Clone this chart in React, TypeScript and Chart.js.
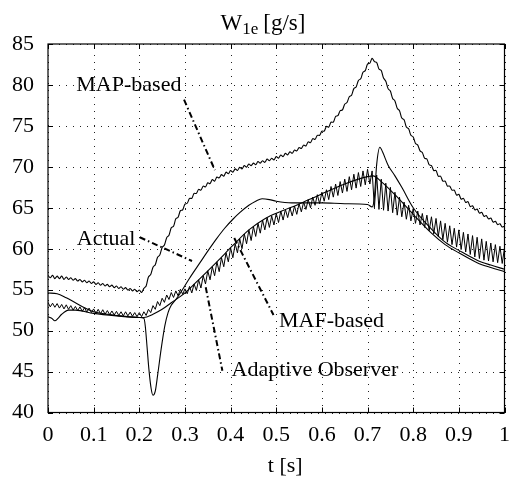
import React, { useEffect, useRef } from 'react';
import { Chart, registerables } from 'chart.js';

Chart.register(...registerables);

// ---------- data ----------
// fine-sampled series, one value every sampleStep seconds from t = 0 to t = 1
const sampleStep = 0.005;

const mapBasedFlow = [
  56.75, 56.45, 56.75, 56.35, 56.65, 56.35, 56.65, 56.25, 56.55, 56.25,
  56.45, 56.15, 56.35, 56.05, 56.25, 55.95, 56.15, 55.85, 56.05, 55.75,
  55.95, 55.65, 55.85, 55.55, 55.75, 55.45, 55.65, 55.35, 55.55, 55.25,
  55.45, 55.15, 55.35, 55.05, 55.25, 54.95, 55.15, 54.85, 55.05, 54.75,
  54.95, 54.65, 55.15, 55.45, 56.55, 56.85, 57.75, 58.05, 58.95, 59.25,
  60.15, 60.45, 61.35, 61.65, 62.55, 62.75, 63.65, 63.85, 64.65, 64.75,
  65.45, 65.55, 66.15, 66.15, 66.75, 66.75, 67.25, 67.15, 67.65, 67.55,
  68.05, 67.95, 68.45, 68.25, 68.75, 68.65, 69.05, 68.85, 69.35, 69.15,
  69.55, 69.35, 69.75, 69.55, 69.95, 69.75, 70.15, 69.95, 70.35, 70.15,
  70.45, 70.25, 70.65, 70.45, 70.75, 70.55, 70.95, 70.75, 71.05, 70.85,
  71.25, 71.05, 71.45, 71.25, 71.65, 71.45, 71.85, 71.65, 72.05, 71.95,
  72.35, 72.25, 72.65, 72.55, 73.05, 72.95, 73.45, 73.35, 73.85, 73.85,
  74.35, 74.35, 74.95, 74.85, 75.45, 75.45, 76.15, 76.25, 76.85, 76.95,
  77.65, 77.85, 78.55, 78.75, 79.55, 79.75, 80.55, 80.75, 81.55, 81.75,
  82.55, 82.65, 83.25, 82.85, 82.75, 81.95, 81.75, 80.85, 80.45, 79.55,
  79.25, 78.35, 78.05, 77.15, 76.85, 75.95, 75.75, 74.85, 74.65, 73.85,
  73.65, 72.85, 72.65, 71.95, 71.75, 71.05, 70.95, 70.25, 70.15, 69.55,
  69.55, 68.85, 68.85, 68.25, 68.25, 67.65, 67.65, 67.15, 67.15, 66.55,
  66.65, 66.05, 66.15, 65.65, 65.75, 65.15, 65.25, 64.75, 64.85, 64.35,
  64.45, 63.95, 64.05, 63.65, 63.75, 63.25, 63.35, 62.95, 63.05, 62.65,
  62.75,
];

const mafBasedFlow = [
  53.45, 52.9, 53.35, 52.85, 53.3, 52.75, 53.2, 52.65, 53.15, 52.6,
  53.05, 52.5, 52.95, 52.45, 52.9, 52.35, 52.8, 52.25, 52.75, 52.2,
  52.65, 52.1, 52.6, 52.05, 52.55, 52.0, 52.45, 51.95, 52.4, 51.9,
  52.35, 51.85, 52.3, 51.8, 52.3, 51.8, 52.25, 51.75, 52.2, 51.7,
  52.2, 51.7, 52.3, 51.85, 52.6, 52.2, 53.05, 52.6, 53.55, 53.05,
  53.95, 53.45, 54.35, 53.8, 54.65, 54.05, 54.85, 54.25, 55.05, 54.45,
  55.1, 54.5, 55.4, 54.6, 55.7, 54.9, 56.2, 55.2, 56.7, 55.7,
  57.3, 56.2, 57.8, 56.7, 58.4, 57.2, 58.9, 57.8, 59.5, 58.4,
  60.1, 58.9, 60.6, 59.5, 61.2, 60.0, 61.8, 60.6, 62.3, 61.0,
  62.7, 61.5, 63.1, 61.9, 63.5, 62.3, 63.8, 62.6, 64.0, 62.9,
  64.3, 63.2, 64.6, 63.5, 64.8, 63.8, 65.0, 64.0, 65.2, 64.2,
  65.5, 64.5, 65.7, 64.8, 66.0, 65.0, 66.3, 65.3, 66.6, 65.5,
  66.9, 65.8, 67.2, 66.0, 67.6, 66.3, 67.9, 66.5, 68.2, 66.8,
  68.5, 67.0, 68.8, 67.2, 69.1, 67.4, 69.3, 67.6, 69.5, 67.8,
  69.7, 67.9, 69.5, 65.0, 69.0, 64.8, 68.5, 64.7, 68.0, 64.6,
  67.5, 64.4, 66.9, 64.1, 66.3, 63.9, 65.7, 63.6, 65.3, 63.4,
  64.9, 63.1, 64.6, 62.9, 64.3, 62.6, 64.1, 62.2, 63.9, 61.8,
  63.7, 61.5, 63.4, 61.1, 63.1, 60.8, 62.8, 60.5, 62.5, 60.2,
  62.3, 59.9, 62.0, 59.6, 61.8, 59.3, 61.6, 59.0, 61.4, 58.8,
  61.2, 58.6, 60.9, 58.5, 60.7, 58.4, 60.5, 58.3, 60.3, 58.2,
  60.1,
];

const actualTime = [
  0, 0.02, 0.04, 0.06, 0.08, 0.1, 0.13, 0.16, 0.2, 0.21,
  0.213, 0.217, 0.221, 0.226, 0.23, 0.235, 0.24, 0.248, 0.256, 0.263,
  0.27, 0.28, 0.29, 0.31, 0.333, 0.35, 0.369, 0.387, 0.405, 0.42,
  0.44, 0.455, 0.469, 0.485, 0.5, 0.534, 0.6, 0.65, 0.7, 0.71,
  0.715, 0.72, 0.727, 0.733, 0.745, 0.76, 0.775, 0.8, 0.84, 0.87,
  0.9, 0.94, 0.97, 1.0,
];
const actualFlow = [
  54.6, 54.5, 54.0, 53.4, 52.8, 52.3, 52.0, 51.8, 51.6, 51.5,
  50.6, 48.0, 45.3, 42.9, 42.1, 42.6, 44.5, 47.8, 50.6, 52.2,
  53.1, 53.8, 54.6, 56.4, 58.3, 59.7, 61.2, 62.5, 63.6, 64.4,
  65.3, 65.8, 66.1, 66.0, 65.8, 65.6, 65.6, 65.5, 65.4, 65.1,
  66.3, 70.3, 72.4, 71.8, 70.2, 68.9, 67.5, 65.0, 62.4, 60.8,
  59.8, 58.6, 58.0, 57.5,
];

const observerTime = [
  0, 0.008, 0.015, 0.022, 0.03, 0.045, 0.06, 0.1, 0.15, 0.2,
  0.21, 0.23, 0.25, 0.27, 0.3, 0.33, 0.37, 0.405, 0.44, 0.476,
  0.512, 0.548, 0.584, 0.62, 0.65, 0.68, 0.7, 0.712, 0.73, 0.76,
  0.8, 0.84, 0.87, 0.9, 0.94, 0.97, 1.0,
];
const observerFlow = [
  51.7, 51.5, 51.2, 51.5, 52.0, 52.5, 52.5, 52.1, 51.8, 51.6,
  51.6, 52.0, 52.6, 53.4, 54.6, 56.2, 58.4, 60.4, 62.3, 63.7,
  64.6, 65.4, 66.3, 67.2, 67.9, 68.5, 68.8, 68.9, 68.2, 66.6,
  64.2, 61.9, 60.5, 59.5, 58.3, 57.7, 57.2,
];

// annotation labels (anchored in data coordinates)
const labelTexts = ['MAP-based', 'Actual', 'MAF-based', 'Adaptive Observer'];
const labelTime = [0.062, 0.063, 0.506, 0.402];
const labelFlow = [79.3, 60.5, 50.5, 44.5];
// leader lines from label to curve
const leaderFromTime = [0.298, 0.201, 0.408, 0.3455];
const leaderFromFlow = [78.2, 61.4, 61.3, 55.3];
const leaderToTime = [0.3655, 0.3155, 0.494, 0.382];
const leaderToFlow = [69.6, 58.5, 51.9, 45.1];

const xMin = 0, xMax = 1, xStep = 0.1;
const yMin = 40, yMax = 85, yStep = 5;
const titleMain = 'W';
const titleSub = '1e';
const titleUnit = '[g/s]';
const xTitle = 't [s]';

// ---------- helpers ----------
const FONT = '"Liberation Serif", "Times New Roman", serif';

function fineSeries(values: number[]) {
  return values.map((v, i) => ({ x: i * sampleStep, y: v }));
}
function pairSeries(ts: number[], vs: number[]) {
  return ts.map((t, i) => ({ x: t, y: vs[i] }));
}

const gridPlugin = {
  id: 'dottedGrid',
  beforeDatasetsDraw(chart: any) {
    const { ctx, chartArea: a, scales } = chart;
    const xs = scales.x;
    const ys = scales.y;
    const gap = 7;
    ctx.save();
    ctx.fillStyle = '#222';
    xs.ticks.forEach((t: any) => {
      const px = Math.round(xs.getPixelForValue(t.value));
      for (let y = Math.round(a.top) + 4; y < a.bottom; y += gap) ctx.fillRect(px, y, 1, 1);
    });
    ys.ticks.forEach((t: any) => {
      const py = Math.round(ys.getPixelForValue(t.value));
      for (let x = Math.round(a.left) + 4; x < a.right; x += gap) ctx.fillRect(x, py, 1, 1);
    });
    ctx.restore();
  },
};

const framePlugin = {
  id: 'frameAndText',
  afterDatasetsDraw(chart: any) {
    const { ctx, chartArea: a, scales } = chart;
    const xs = scales.x;
    const ys = scales.y;
    ctx.save();
    ctx.setLineDash([]);
    ctx.strokeStyle = '#000';
    ctx.lineWidth = 1.2;
    ctx.strokeRect(a.left, a.top, a.right - a.left, a.bottom - a.top);

    // inward tick marks on all four sides
    ctx.lineWidth = 1;
    ctx.beginPath();
    const tl = 5;
    xs.ticks.forEach((t: any) => {
      const px = Math.round(xs.getPixelForValue(t.value)) + 0.5;
      ctx.moveTo(px, a.bottom);
      ctx.lineTo(px, a.bottom - tl);
      ctx.moveTo(px, a.top);
      ctx.lineTo(px, a.top + tl);
    });
    ys.ticks.forEach((t: any) => {
      const py = Math.round(ys.getPixelForValue(t.value)) + 0.5;
      ctx.moveTo(a.left, py);
      ctx.lineTo(a.left + tl, py);
      ctx.moveTo(a.right, py);
      ctx.lineTo(a.right - tl, py);
    });
    ctx.stroke();

    // annotation labels
    ctx.fillStyle = '#000';
    ctx.textAlign = 'left';
    ctx.textBaseline = 'alphabetic';
    ctx.font = `22px ${FONT}`;
    labelTexts.forEach((txt, i) => {
      ctx.fillText(txt, xs.getPixelForValue(labelTime[i]), ys.getPixelForValue(labelFlow[i]));
    });

    // title with subscript
    const mainFont = `23px ${FONT}`;
    const subFont = `17px ${FONT}`;
    ctx.font = mainFont;
    const wMain = ctx.measureText(titleMain).width;
    const wUnit = ctx.measureText(titleUnit).width;
    ctx.font = subFont;
    const wSub = ctx.measureText(titleSub).width;
    const gap = 5;
    const total = wMain + wSub + gap + wUnit;
    const cx = chart.width / 2 + 3;
    let x0 = cx - total / 2;
    const base = a.top - 14;
    ctx.font = mainFont;
    ctx.fillText(titleMain, x0, base);
    x0 += wMain;
    ctx.font = subFont;
    ctx.fillText(titleSub, x0, base + 4);
    x0 += wSub + gap;
    ctx.font = mainFont;
    ctx.fillText(titleUnit, x0, base);

    // x axis title
    ctx.font = `22px ${FONT}`;
    ctx.textAlign = 'center';
    ctx.fillText(xTitle, (a.left + a.right) / 2 + 9, a.bottom + 59.5);
    ctx.restore();
  },
};

export default function App() {
  const canvasRef = useRef<HTMLCanvasElement | null>(null);

  useEffect(() => {
    const canvas = canvasRef.current;
    if (!canvas) return;

    const curveStyle = {
      borderColor: '#000',
      borderWidth: 1.1,
      pointRadius: 0,
      fill: false,
    };

    const leaderSets = labelTexts.map((txt, i) => ({
      label: `${txt} leader`,
      data: [
        { x: leaderFromTime[i], y: leaderFromFlow[i] },
        { x: leaderToTime[i], y: leaderToFlow[i] },
      ],
      borderColor: '#000',
      borderWidth: 2,
      borderDash: [6, 3, 1.5, 3],
      pointRadius: 0,
      fill: false,
      tension: 0,
    }));

    const chart = new Chart(canvas, {
      type: 'line',
      data: {
        datasets: [
          { label: 'MAP-based', data: fineSeries(mapBasedFlow), ...curveStyle, tension: 0.3 },
          { label: 'MAF-based', data: fineSeries(mafBasedFlow), ...curveStyle, borderWidth: 1, tension: 0 },
          { label: 'Actual', data: pairSeries(actualTime, actualFlow), ...curveStyle, cubicInterpolationMode: 'monotone' },
          { label: 'Adaptive Observer', data: pairSeries(observerTime, observerFlow), ...curveStyle, cubicInterpolationMode: 'monotone' },
          ...leaderSets,
        ] as any,
      },
      options: {
        responsive: false,
        animation: false,
        events: [],
        layout: { padding: { top: 44, right: 6, left: 0, bottom: 0 } },
        plugins: {
          legend: { display: false },
          tooltip: { enabled: false },
          title: { display: false },
        },
        scales: {
          x: {
            type: 'linear',
            min: xMin,
            max: xMax,
            afterFit: (s: any) => { s.height = 68.5; },
            ticks: {
              stepSize: xStep,
              autoSkip: false,
              maxRotation: 0,
              padding: 10,
              color: '#000',
              font: { family: FONT, size: 22 },
              callback: (v: any) => String(Math.round(Number(v) * 10) / 10),
            },
            grid: { display: false, drawTicks: false },
            border: { display: false },
          },
          y: {
            type: 'linear',
            min: yMin,
            max: yMax,
            afterFit: (s: any) => { s.width = 48; },
            ticks: {
              stepSize: yStep,
              padding: 14,
              color: '#000',
              font: { family: FONT, size: 22 },
            },
            grid: { display: false, drawTicks: false },
            border: { display: false },
          },
        },
      } as any,
      plugins: [gridPlugin, framePlugin],
    });

    return () => chart.destroy();
  }, []);

  return (
    <div style={{ position: 'absolute', left: 0, top: 0, width: 520, height: 481, background: '#fff' }}>
      <canvas ref={canvasRef} width={520} height={481} style={{ display: 'block' }} />
    </div>
  );
}
